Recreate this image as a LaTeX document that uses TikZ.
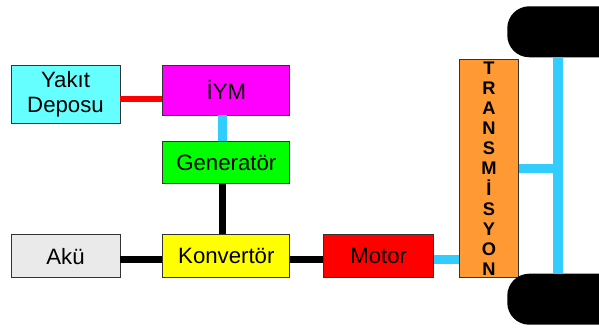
\documentclass[tikz,border=0pt]{standalone}
\usepackage{fontspec}
\setmainfont{Liberation Sans}
\usetikzlibrary{positioning}
\definecolor{boxedge}{HTML}{333333}
\definecolor{tankcyan}{HTML}{66FFFF}
\definecolor{iymmagenta}{HTML}{FF00FF}
\definecolor{gengreen}{HTML}{00FF00}
\definecolor{akugrey}{HTML}{EAEAEA}
\definecolor{convyellow}{HTML}{FFFF00}
\definecolor{motorred}{HTML}{FF0000}
\definecolor{transorange}{HTML}{FF9933}
\definecolor{shaftcyan}{HTML}{33CCFF}
\tikzset{
    unit/.style={
        rectangle, draw=boxedge, line width=0.6pt,
        minimum width=3.175cm, minimum height=1.075cm,
        inner sep=0pt, align=center,
        font=\fontsize{15.8}{17.8}\selectfont
    },
    gearbox/.style={
        unit, fill=transorange,
        minimum width=1.475cm, minimum height=5.45cm,
        font=\fontsize{13}{14.3}\selectfont\bfseries
    },
    wheel/.style={
        rectangle, rounded corners=0.55cm, fill=black,
        minimum width=2.95cm, minimum height=1.275cm, inner sep=0pt
    },
    fuel/.style={line width=4.8pt, color=motorred},
    wire/.style={line width=4.8pt, color=black},
    shaft/.style={line width=6.5pt, color=shaftcyan}
}

\begin{document}
\begin{tikzpicture}

    \useasboundingbox (0,0) rectangle (14.975,8.225);
    \clip (0,0) rectangle (14.975,8.225);

    % --- Engine side ---
    \node[unit, fill=tankcyan, minimum width=2.725cm, minimum height=1.45cm] (depo) at (1.6375,5.875) {Yakıt\\Deposu};
    \node[unit, fill=iymmagenta, minimum height=1.25cm, right=1.05cm of depo.north east, anchor=north west] (iym) {İYM};
    \node[unit, fill=gengreen, minimum height=1.05cm, below=0.65cm of iym] (gen) {Generatör};

    % --- Electric row ---
    \node[unit, fill=convyellow, below=1.25cm of gen] (konv) {Konvertör};
    \node[unit, fill=akugrey, minimum width=2.725cm, left=1.05cm of konv] (aku) {Akü};
    \node[unit, fill=motorred, minimum width=2.75cm, right=0.825cm of konv] (motor) {Motor};

    % --- Drive line ---
    \node[gearbox, right=0.625cm of motor.south east, anchor=south west] (trans) {T\\R\\A\\N\\S\\M\\İ\\S\\Y\\O\\N};
    \node[wheel, anchor=north west] (wtop) at (12.675,8.075) {};
    \node[wheel, anchor=south west] (wbot) at (12.675,0.1) {};
    \coordinate (axtop) at ([xshift=1.275cm]wtop.south west);
    \coordinate (axbot) at ([xshift=1.275cm]wbot.north west);

    % --- Links ---
    \draw[fuel, transform canvas={yshift=-0.125cm}] (depo.east) -- (depo.east -| iym.west);
    \draw[shaft, transform canvas={xshift=-0.1cm}] (iym) -- (gen);
    \draw[wire, transform canvas={xshift=-0.1cm}] (gen) -- (konv);
    \draw[wire, transform canvas={yshift=-0.08cm}] (aku) -- (konv);
    \draw[wire, transform canvas={yshift=-0.08cm}] (konv) -- (motor);
    \draw[shaft, transform canvas={yshift=-0.08cm}] (motor.east) -- (motor.east -| trans.west);
    \draw[shaft] (trans.east) -- (trans.east -| axtop);
    \draw[shaft] (axtop) -- (axbot);

\end{tikzpicture}
\end{document}
